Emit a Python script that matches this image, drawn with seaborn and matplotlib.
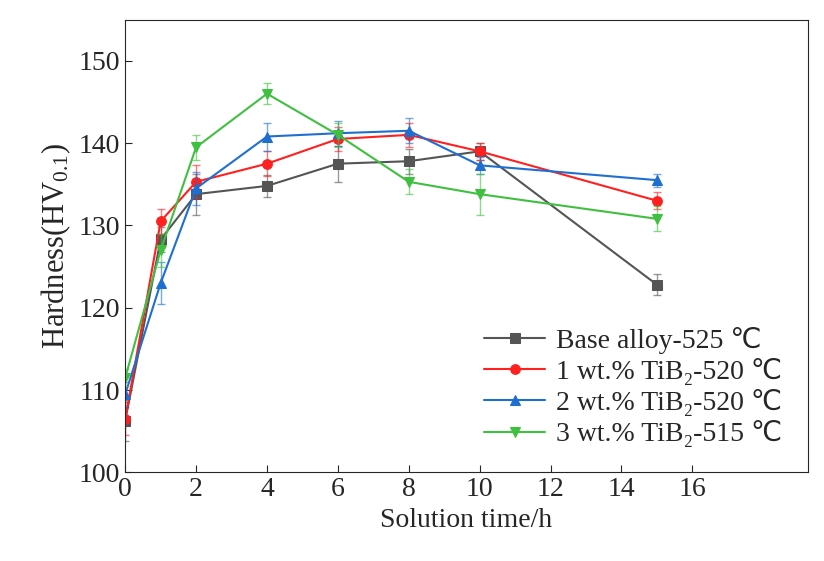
import matplotlib
matplotlib.use("Agg")
import matplotlib.pyplot as plt
import seaborn as sns
import pandas as pd

x = [0, 1, 2, 4, 6, 8, 10, 15]
base = [106.3, 128.3, 133.8, 134.8, 137.5, 137.8, 139.0, 122.8]
base_err = [2.5, 1.5, 2.5, 1.3, 2.2, 1.5, 1.0, 1.3]
tib1 = [106.5, 130.5, 135.3, 137.5, 140.5, 141.0, 139.0, 133.0]
tib1_err = [2.0, 1.5, 2.0, 1.5, 1.5, 1.5, 1.0, 1.0]
tib2 = [109.5, 123.0, 134.5, 140.8, 141.2, 141.5, 137.3, 135.5]
tib2_err = [1.5, 2.5, 2.0, 1.7, 1.5, 1.5, 1.0, 0.8]
tib3 = [111.5, 127.0, 139.5, 146.0, 141.0, 135.3, 133.8, 130.8]
tib3_err = [1.0, 2.0, 1.5, 1.3, 1.5, 1.5, 2.5, 1.5]
labels = ["Base alloy-525 ℃", "1 wt.% TiB₂-520 ℃", "2 wt.% TiB₂-520 ℃", "3 wt.% TiB₂-515 ℃"]
colors = ["#555555", "#ff2020", "#1f6fd0", "#40c040"]
markers = ["s", "o", "^", "v"]

sns.set_style("ticks")
plt.rcParams['font.family'] = ['Liberation Serif', 'DejaVu Sans']
plt.rcParams['mathtext.fontset'] = 'custom'
plt.rcParams['mathtext.rm'] = 'Liberation Serif'
plt.rcParams['mathtext.it'] = 'Liberation Serif:italic'
fig, ax = plt.subplots(figsize=(8.24, 5.61), dpi=100)
fig.subplots_adjust(left=0.152, right=0.98, top=0.965, bottom=0.158)

for ys, es, lab, c, m in zip([base, tib1, tib2, tib3], [base_err, tib1_err, tib2_err, tib3_err], labels, colors, markers):
    df = pd.DataFrame({"x": x, "y": ys})
    sns.lineplot(data=df, x="x", y="y", ax=ax, color=c, marker=m, markersize=7,
                 markeredgecolor=c, linewidth=1.5, label=lab)
    ax.errorbar(x, ys, yerr=es, fmt="none", ecolor=c, elinewidth=1, capsize=3, alpha=0.6)

ax.set_xlim(0, 19.25)
ax.set_ylim(100, 155)
ax.set_xticks(range(0, 17, 2))
ax.set_yticks(range(100, 151, 10))
ax.tick_params(labelsize=20, direction="in", length=5)
ax.set_xlabel("Solution time/h", fontsize=20)
ax.set_ylabel("Hardness(HV$_{0.1}$)", fontsize=22)
leg = ax.legend(loc="lower right", bbox_to_anchor=(1.0, 0.0), fontsize=20, frameon=False,
                handlelength=2.2, handletextpad=0.4, labelspacing=0.15)
fig.savefig("out.png")
